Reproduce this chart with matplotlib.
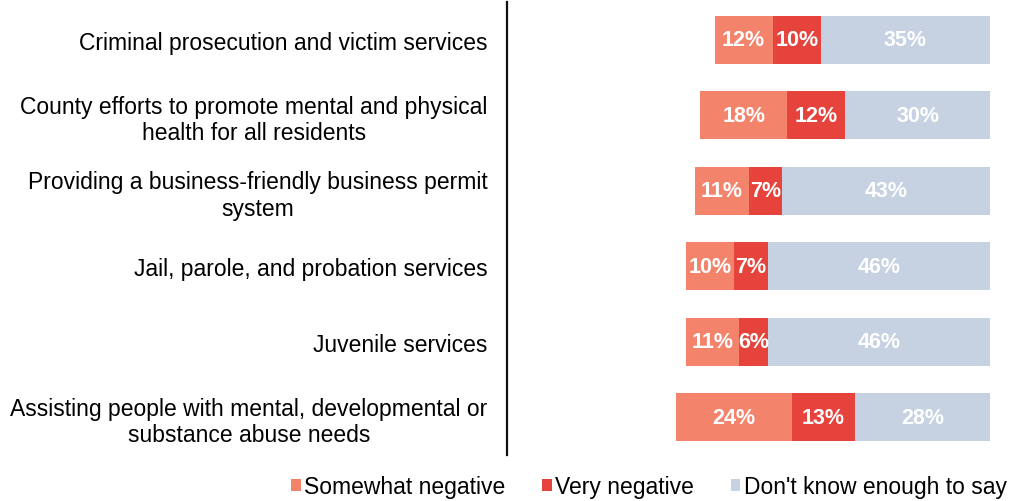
import matplotlib
matplotlib.use("Agg")
import matplotlib.pyplot as plt
import numpy as np

categories = [
    "Criminal prosecution and victim services",
    "County efforts to promote mental and physical\nhealth for all residents",
    "Providing a business-friendly business permit\nsystem",
    "Jail, parole, and probation services",
    "Juvenile services",
    "Assisting people with mental, developmental or\nsubstance abuse needs",
]
somewhat_negative = [12, 18, 11, 10, 11, 24]
very_negative = [10, 12, 7, 7, 6, 13]
dont_know = [35, 30, 43, 46, 46, 28]
series_names = ["Somewhat negative", "Very negative", "Don't know enough to say"]
colors = ["#F4836C", "#E5433B", "#C6D2E2"]

plt.rcParams['font.family'] = ['Liberation Sans', 'DejaVu Sans']

fig = plt.figure(figsize=(10.13, 5.02), dpi=100)
ax = fig.add_axes([507/1013, 1-456/502, (990-507)/1013, (456-3)/502])

y = np.arange(len(categories))
sn = np.array(somewhat_negative)
vn = np.array(very_negative)
dk = np.array(dont_know)
total = sn + vn + dk
left0 = 100 - total
h = 0.63
lefts = [left0, left0 + sn, left0 + sn + vn]
for vals, lft, c, name in zip([sn, vn, dk], lefts, colors, series_names):
    ax.barh(y, vals, left=lft, height=h, color=c, label=name, edgecolor='none')
    for yi, v, l in zip(y, vals, lft):
        ax.text(l + v/2, yi, f"{v}%", ha='center', va='center', color='white',
                fontsize=15.5, fontweight='bold')

ax.set_xlim(0, 100)
ax.set_ylim(len(categories)-0.5, -0.5)
for s in ['top', 'right', 'bottom']:
    ax.spines[s].set_visible(False)
ax.spines['left'].set_linewidth(1.6)
ax.spines['left'].set_color('#111111')
ax.set_xticks([])
ax.set_yticks(y)
ax.set_yticklabels(categories, fontsize=16.5, multialignment='center')
ax.tick_params(axis='y', length=0, pad=14)

handles, labels = ax.get_legend_handles_labels()
fig.legend(handles, labels, loc='center right', bbox_to_anchor=(0.996, 1-488/502),
           ncol=3, frameon=False, fontsize=16.5, handlelength=0.42, handleheight=0.42,
           handletextpad=0.15, columnspacing=1.6, borderaxespad=0.0, borderpad=0.1)

fig.savefig("out.png", dpi=100)
